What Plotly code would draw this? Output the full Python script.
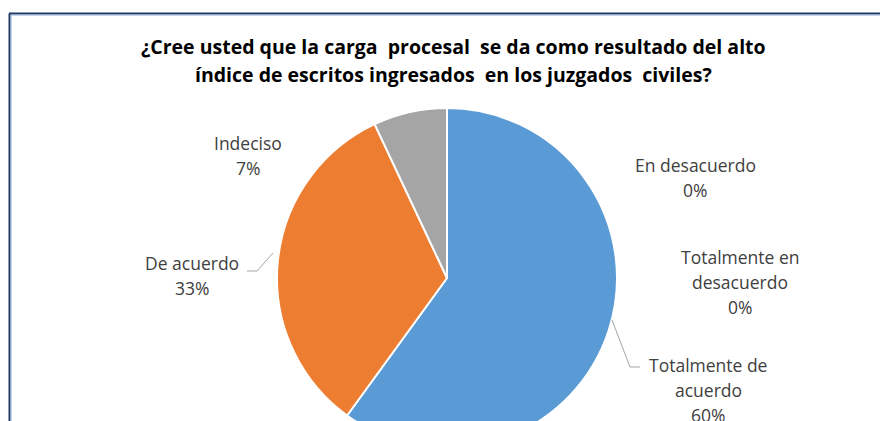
import plotly.graph_objects as go

# ---- data ----
categories = ["Totalmente de acuerdo", "De acuerdo", "Indeciso",
              "En desacuerdo", "Totalmente en desacuerdo"]
percentages = [60, 33, 7, 0, 0]
title_lines = ["¿Cree usted que la carga  procesal  se da como resultado del alto",
               "índice de escritos ingresados  en los juzgados  civiles?"]

colors = ["#5B9BD5", "#ED7D31", "#A5A5A5", "#FFC000", "#4472C4"]

W, H = 880, 460
L, R, T, B = 277, 263, 108, 12
PW, PH = W - L - R, H - T - B


def px(x):
    return (x - L) / PW


def py(y):
    return (H - B - y) / PH


fig = go.Figure(go.Pie(
    labels=categories, values=percentages, sort=False,
    direction="clockwise", rotation=0,
    marker=dict(colors=colors, line=dict(color="white", width=2)),
    textinfo="none", hoverinfo="label+percent", showlegend=False,
))

annotations = []
# title
for i, line in enumerate(title_lines):
    annotations.append(dict(
        text="<b>" + line + "</b>", x=px(453), y=py(47 + 28 * i),
        xref="paper", yref="paper", showarrow=False,
        xanchor="center", yanchor="middle",
        font=dict(family="Open Sans", size=19.5, color="#000000")))

# data labels: line wrapping and positions (style only)
wrap = {"Totalmente en desacuerdo": ["Totalmente en", "desacuerdo"],
        "Totalmente de acuerdo": ["Totalmente de", "acuerdo"]}
label_pos = {"Indeciso": (248, 143), "De acuerdo": (192, 263),
             "En desacuerdo": (695, 165), "Totalmente en desacuerdo": (740, 257),
             "Totalmente de acuerdo": (708, 365)}
for cat, val in zip(categories, percentages):
    lines = wrap.get(cat, [cat]) + [f"{val}%"]
    cx, cy = label_pos[cat]
    for j, ln in enumerate(lines):
        annotations.append(dict(
            text=ln, x=px(cx), y=py(cy + 25 * j), xref="paper", yref="paper",
            showarrow=False, xanchor="center", yanchor="middle",
            font=dict(family="Open Sans", size=17.5, color="#404040")))

shapes = []
# leader lines
leaders = [[(247, 271), (257, 271), (273, 253)],
           [(612, 320), (630, 367), (640, 367)]]
for pts in leaders:
    for (x0, y0), (x1, y1) in zip(pts[:-1], pts[1:]):
        shapes.append(dict(type="line", xref="paper", yref="paper",
                           x0=px(x0), y0=py(y0), x1=px(x1), y1=py(y1),
                           line=dict(color="#A6A6A6", width=1)))
# frame
shapes.append(dict(type="line", xref="paper", yref="paper",
                   x0=px(9.5), y0=py(13.5), x1=px(9.5), y1=py(H),
                   line=dict(color="#1F3864", width=2)))
shapes.append(dict(type="line", xref="paper", yref="paper",
                   x0=px(9), y0=py(13.5), x1=px(W), y1=py(13.5),
                   line=dict(color="#1F3864", width=2)))
shapes.append(dict(type="line", xref="paper", yref="paper",
                   x0=px(11), y0=py(15), x1=px(11), y1=py(H),
                   line=dict(color="#8EA9DB", width=1)))
shapes.append(dict(type="line", xref="paper", yref="paper",
                   x0=px(11), y0=py(15), x1=px(W), y1=py(15),
                   line=dict(color="#8EA9DB", width=1)))

fig.update_layout(
    width=W, height=H, autosize=False,
    margin=dict(l=L, r=R, t=T, b=B, pad=0),
    paper_bgcolor="white", plot_bgcolor="white",
    annotations=annotations, shapes=shapes,
)

fig.write_html(
    "out.html",
    config={"displayModeBar": False},
    post_script="document.body.style.margin='0';"
                "document.body.style.overflow='hidden';"
                "document.documentElement.style.overflow='hidden';",
)
